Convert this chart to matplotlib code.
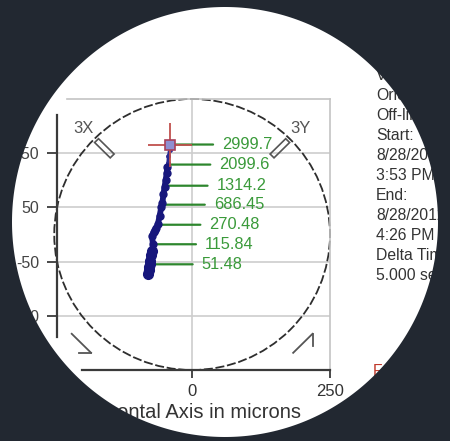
import numpy as np
import matplotlib
matplotlib.use("Agg")
import matplotlib.pyplot as plt
from matplotlib.patches import Circle, Polygon, PathPatch
from matplotlib.path import Path

plt.rcParams['font.family'] = ['Liberation Sans', 'DejaVu Sans']

# Shaft average centerline (microns)
trace_x = [-80, -79, -78, -77, -76, -74, -72, -71, -73, -70, -67, -65, -62,
           -59, -56, -54, -52, -50, -48, -46, -45, -44, -43, -41, -40]
trace_y = [-72, -66, -60, -55, -48, -38, -30, -18, -2, 4, 8, 12, 20,
           34, 50, 58, 74, 88, 100, 114, 124, 132, 144, 156, 166]

# Speed annotations (rpm) and where they sit on the trace
speeds = [51.48, 115.84, 270.48, 686.45, 1314.2, 2099.6, 2999.7]
speed_x = [-77, -71, -63, -55, -50, -45, -40]
speed_y = [-55, -18, 18, 55, 90, 129, 166]

# Axis ticks
x_ticks = [0, 250]
x_ticklabels = ["0", "250"]
y_ticks = [150, 50, -50, -150]
y_ticklabels = ["150", "50", "-50", "-150"]
clearance = 250

probes = [("3X", 135), ("3Y", 45)]

info_lines = ["Vert", "Orient:", "Off-line", "Start:", "8/28/2012", "3:53 PM",
              "End:", "8/28/2012", "4:26 PM", "Delta Time", "5.000 sec"]

W, H = 450, 441
fig = plt.figure(figsize=(W / 100, H / 100), dpi=100)
fig.patch.set_facecolor("white")

ax = fig.add_axes([57 / W, (H - 370) / H, 273 / W, 271 / H])
ax.set_xlim(-245, 250)
ax.set_ylim(-250, 250)
ax.set_facecolor("white")

dark = "#3a3a3a"
grid_c = "#cdcdcd"
ax.set_xticks(x_ticks)
ax.set_xticklabels(x_ticklabels)
ax.set_yticks(y_ticks)
ax.set_yticklabels(y_ticklabels)
ax.tick_params(axis="x", length=6, width=1.3, color=dark, labelsize=12,
               labelcolor="#333333", pad=4)
ax.tick_params(axis="y", length=7, width=1.3, color=dark, labelsize=11.5,
               labelcolor="#444444", pad=6)
for v in y_ticks:
    ax.axhline(v, color=grid_c, lw=1.2, zorder=0)
ax.axvline(0, color=grid_c, lw=1.2, zorder=0)

ax.spines["left"].set_color(dark)
ax.spines["left"].set_linewidth(1.6)
ax.spines["left"].set_bounds(-189, 220)
ax.spines["bottom"].set_color(dark)
ax.spines["bottom"].set_linewidth(1.6)
ax.spines["bottom"].set_bounds(-199, 250)
ax.spines["top"].set_color("#c4c4c4")
ax.spines["top"].set_linewidth(1.2)
ax.spines["top"].set_bounds(-226, 250)
ax.spines["right"].set_color("#c4c4c4")
ax.spines["right"].set_linewidth(1.2)

ax.set_xlabel("Horizontal Axis in microns", fontsize=14.5, color="#333333",
              labelpad=3)
ax.xaxis.label.set_x(0.47)

# Bearing clearance circle
ax.add_patch(Circle((0, 0), clearance, fill=False, ec="#2e2e2e", lw=1.3,
                    ls=(0, (5, 1.5)), zorder=2, clip_on=False))

# Probe symbols and labels
for name, ang in probes:
    t = np.deg2rad(ang)
    u = np.array([np.cos(t), np.sin(t)])
    n = np.array([-np.sin(t), np.cos(t)])
    r1, r2, hw = 0.82 * clearance, 0.98 * clearance, 5
    pts = [r1 * u + hw * n, r2 * u + hw * n, r2 * u - hw * n, r1 * u - hw * n]
    ax.add_patch(Polygon(pts, closed=True, fill=False, ec="#555555", lw=1.2,
                         zorder=3, clip_on=False))
    lab = 1.11 * clearance * u
    ax.text(lab[0], lab[1], name, fontsize=12, color="#555555",
            ha="center", va="center", clip_on=False)

# Rotation direction arrows
for a0, a1 in [(220, 230), (310, 320)]:
    rr = 1.14 * clearance
    s = rr * np.array([np.cos(np.deg2rad(a0)), np.sin(np.deg2rad(a0))])
    e = rr * np.array([np.cos(np.deg2rad(a1)), np.sin(np.deg2rad(a1))])
    ax.plot([s[0], e[0]], [s[1], e[1]], color="#555555", lw=1.3, clip_on=False)
    back = (s - e) / np.linalg.norm(s - e)
    c, sn = np.cos(np.deg2rad(45)), np.sin(np.deg2rad(45))
    barb = np.array([c * back[0] - sn * back[1], sn * back[0] + c * back[1]])
    b = e + 22 * barb
    ax.plot([e[0], b[0]], [e[1], b[1]], color="#555555", lw=1.3, clip_on=False)

# Leader lines and speed labels
green_line = "#2d862d"
green_text = "#3a9a3a"
for sx, sy, sp in zip(speed_x, speed_y, speeds):
    ax.annotate("", xy=(sx, sy), xytext=(43, 0), textcoords="offset pixels",
                arrowprops=dict(arrowstyle="-", color=green_line, lw=1.6,
                                shrinkA=0, shrinkB=0), zorder=3)
    ax.annotate(f"{sp:g}", xy=(sx, sy), xytext=(52, 0),
                textcoords="offset pixels", color=green_text, fontsize=11.8,
                ha="left", va="center", zorder=4)

# Centerline trace: thin at high speed, heavy at low speed
navy = "#17177c"
tx = np.array(trace_x)
ty = np.array(trace_y)
upper = ty >= 120
lower = ty <= 124
ax.plot(tx[upper], ty[upper], color="#2a2a90", lw=2.2, zorder=5,
        marker="o", ms=2.5)
ax.plot(tx[lower], ty[lower], color=navy, lw=4.2, zorder=5,
        marker="o", ms=5, solid_capstyle="round")
ax.plot(tx[ty < -20], ty[ty < -20], color=navy, lw=6.5, zorder=5,
        marker="o", ms=7, solid_capstyle="round")

# Current position cursor at top speed
ax.plot(speed_x[-1], speed_y[-1], marker="+", ms=32, mew=1.3,
        color="#c0504d", zorder=6)
ax.plot(speed_x[-1], speed_y[-1], marker="s", ms=6.5, mew=1.2,
        mfc="#8f8fd0", mec="#a8405a", zorder=7)

# Overlay in pixel coordinates: info column and round frame
ov = fig.add_axes([0, 0, 1, 1])
ov.set_xlim(0, W)
ov.set_ylim(H, 0)
ov.axis("off")
ov.set_zorder(5)
ov.patch.set_alpha(0)

for i, line in enumerate(info_lines):
    ov.text(376, 75 + 20 * i, line, fontsize=11.3,
            color="#333333", ha="left", va="center")
ov.text(373, 371, "F", fontsize=11.3, color="#c0392b", ha="left", va="center")

cx, cy, ea, eb = 225, 222, 213, 215
t = np.linspace(2 * np.pi, 0, 400)
ell = np.column_stack([cx + ea * np.cos(t), cy + eb * np.sin(t)])
rect = np.array([[-10, -10], [W + 10, -10], [W + 10, H + 10], [-10, H + 10], [-10, -10]])
frame = Path.make_compound_path(Path(rect, closed=True), Path(ell, closed=True))
ov.add_patch(PathPatch(frame, facecolor="#222831", edgecolor="none", zorder=20))

fig.savefig("out.png", dpi=100, facecolor=fig.get_facecolor())
